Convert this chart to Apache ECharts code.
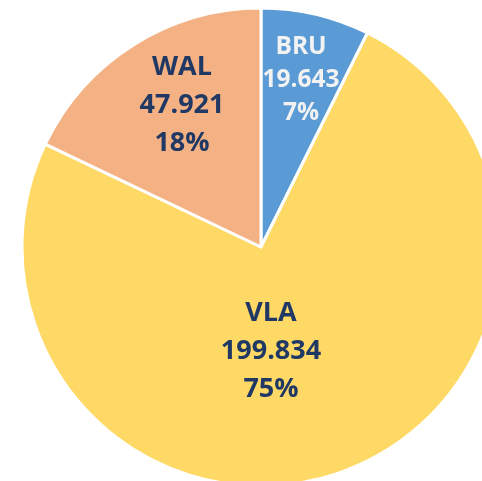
<!DOCTYPE html>
<html>
<head>
<meta charset="utf-8">
<script src="https://cdn.jsdelivr.net/npm/echarts@6/dist/echarts.min.js"></script>
<style>
body{margin:0;padding:0;background:#fff;}
#main{width:482px;height:481px;}
</style>
</head>
<body>
<div id="main"></div>
<script>
// slice data
const names = ['BRU', 'VLA', 'WAL']
const values = [19.643, 199.834, 47.921]
const colors = ['#5B9BD5', '#FFD966', '#F4B183']
const textColors = ['#F2F2F2', '#203864', '#203864']
// where the labels sit (pixel spots, like the excel "best fit")
const labelSpots = [[301, 80], [271, 351], [182, 105]]

const total = values.reduce(function (a, b) { return a + b }, 0)

let myChart = echarts.init(document.getElementById('main'))
const option = {
  backgroundColor: '#fff',
  animation: false,
  series: [{
    type: 'pie',
    center: [261, 247],
    radius: 239,
    startAngle: 90,
    clockwise: true,
    itemStyle: {
      borderColor: '#fff',
      borderWidth: 3
    },
    labelLine: { show: false },
    label: {
      show: true,
      position: 'inside',
      fontFamily: 'Open Sans',
      fontWeight: 'bold',
      fontSize: 27,
      lineHeight: 38,
      formatter: function (params) {
        let pct = Math.round(params.value / total * 100)
        return params.name + '\n' + params.value.toFixed(3) + '\n' + pct + '%'
      }
    },
    labelLayout: function (params) {
      let p = labelSpots[params.dataIndex]
      return { x: p[0], y: p[1], align: 'center', verticalAlign: 'middle' }
    },
    data: names.map(function (n, i) {
      let d = {
        name: n,
        value: values[i],
        itemStyle: { color: colors[i] },
        label: { color: textColors[i] }
      }
      if (i === 0) {
        d.label.fontSize = 24.5
        d.label.lineHeight = 33
      }
      return d
    })
  }]
}
myChart.setOption(option)
</script>
</body>
</html>
